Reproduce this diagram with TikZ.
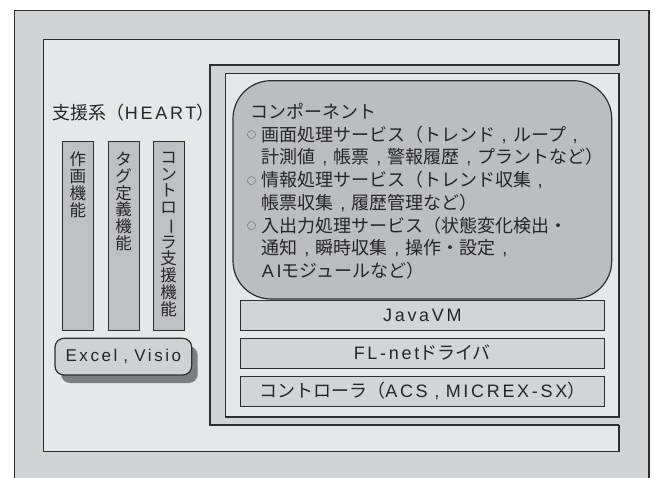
\documentclass[tikz,border=0pt]{standalone}
\usepackage{fontspec}
\setmainfont{Noto Sans CJK JP}
\newfontfamily\latf[LetterSpace=15]{Liberation Sans}
\newfontfamily\latn{Liberation Sans}
\newcommand\lt[1]{{\latf #1}}
\newcommand\cm{\makebox[1em][c]{\latn ,}}
\usetikzlibrary{shadows}
\definecolor{outerc}{HTML}{D2D3D5}
\definecolor{lightc}{HTML}{E6E7E9}
\definecolor{compc}{HTML}{BCBDC0}
\definecolor{barc}{HTML}{BFC0C3}
\definecolor{layerc}{HTML}{D3D4D6}
\definecolor{excelc}{HTML}{D0D1D3}
\definecolor{shadowc}{HTML}{7D7E80}
\definecolor{linec}{HTML}{2E2E2E}
\definecolor{textc}{HTML}{262626}
\begin{document}
\begin{tikzpicture}[x=1pt,y=-1pt,
  frame/.style={draw=linec, line width=1.2pt},
  layer/.style={draw=linec, line width=1pt, fill=layerc, minimum width=363.3pt, minimum height=30pt, inner sep=0pt, text=textc, font=\fontsize{18}{20}\selectfont},
  bar/.style={draw=linec, line width=1pt, fill=barc, minimum width=31pt, minimum height=189pt, inner sep=0pt},
  vtext/.style={anchor=north, align=center, inner sep=0pt, text=textc, font=\fontsize{16.5}{16.7}\selectfont},
  cline/.style={anchor=base west, inner sep=0pt, text=textc, font=\fontsize{18}{20}\selectfont},
]
\useasboundingbox (0,0) rectangle (655,477);
\fill[white] (0,0) rectangle (655,477);
% outer frame
\draw[frame, fill=outerc] (14.7,10.3) rectangle (649,490);
% light band (support system)
\draw[frame, fill=lightc] (43.3,39.3) rectangle (619,451.5);
% runtime panel
\fill[outerc] (210,65) rectangle (621,425);
\draw[frame] (619,65) -- (210,65) -- (210,425) -- (619,425);
% inner area
\draw[frame, fill=lightc] (225.7,73.3) rectangle (619,417);

% component
\node[draw=linec, line width=1.2pt, fill=compc, rounded corners=38pt, minimum width=378.7pt, minimum height=218.3pt, inner sep=0pt] (comp) at (422.35,189.85) {};
\newcommand\bl{\raisebox{2.5pt}{\fontsize{9}{9}\selectfont ○}\hspace{5pt}}
\node[cline] (c1) at (250,118.3) {コンポーネント};
\node[cline] (c2) at (247,141.05) {\bl 画面処理サービス（トレンド\cm ループ\cm};
\node[cline] (c3) at (261.7,163.8) {計測値\cm 帳票\cm 警報履歴\cm プラントなど）};
\node[cline] (c4) at (247,186.55) {\bl 情報処理サービス（トレンド収集\cm};
\node[cline] (c5) at (261.7,209.3) {帳票収集\cm 履歴管理など）};
\node[cline] (c6) at (247,232.05) {\bl 入出力処理サービス（状態変化検出・};
\node[cline] (c7) at (261.7,254.8) {通知\cm 瞬時収集\cm 操作・設定\cm};
\node[cline] (c8) at (261.7,277.55) {\lt{AI}モジュールなど）};

% layers
\node[layer] (jvm) at (422.35,315.7) {\lt{JavaVM}};
\node[layer] (fl) at (422.35,353) {\lt{FL-net}ドライバ};
\node[layer] (ctl) at (422.35,391) {コントローラ（\lt{ACS}\cm\lt{MICREX-SX}）};

% support system
\node[anchor=base west, inner sep=0pt, text=textc, font=\fontsize{18}{20}\selectfont] (heart) at (52.7,119.5) {支援系（\lt{HEART}）};
\node[bar] (b1) at (77.8,236.2) {};
\node[bar] (b2) at (123.5,236.2) {};
\node[bar] (b3) at (168.7,236.2) {};
\node[vtext] (t1) at (77.8,152) {作\\画\\機\\能};
\node[vtext] (t2) at (123.5,152) {タ\\グ\\定\\義\\機\\能};
\node[vtext] (t3) at (168.7,152) {コ\\ン\\ト\\ロ\\\rotatebox[origin=c]{-90}{ー}\\ラ\\支\\援\\機\\能};
\node[draw=linec, line width=1.2pt, fill=excelc, rounded corners=9pt, minimum width=136.7pt, minimum height=36.7pt, inner sep=0pt, text=textc, font=\fontsize{17}{20}\selectfont,
  drop shadow={shadow xshift=6pt, shadow yshift=-8pt, fill=shadowc, opacity=1}] (excel) at (123.35,356.65) {\lt{Excel}\cm\lt{Visio}};
\end{tikzpicture}
\end{document}
